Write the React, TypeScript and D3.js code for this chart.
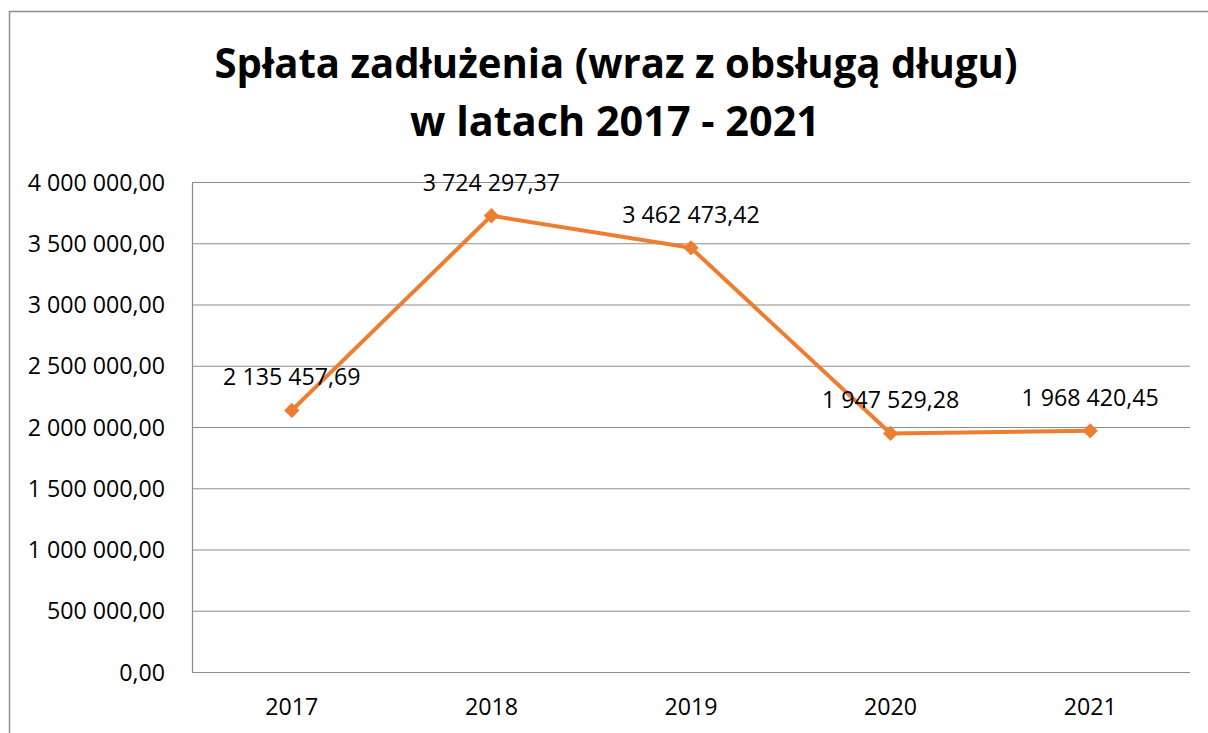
import React from "react";
import * as d3 from "d3";

const titleLines = ["Spłata zadłużenia (wraz z obsługą długu)", "w latach 2017 - 2021"];
const years = ["2017", "2018", "2019", "2020", "2021"];
const values = [2135457.69, 3724297.37, 3462473.42, 1947529.28, 1968420.45];
const yTicks = [0, 500000, 1000000, 1500000, 2000000, 2500000, 3000000, 3500000, 4000000];

const W = 1208;
const H = 733;
const plot = { left: 192, right: 1190, top: 182, bottom: 672 };
const FONT = "'Open Sans', 'Liberation Sans', sans-serif";
const FS = 23.2;

const fmt = (v: number) => {
  const [i, d] = v.toFixed(2).split(".");
  const grouped = i.replace(/\B(?=(\d{3})+(?!\d))/g, " ");
  return `${grouped},${d}`;
};

export default function App() {
  const x = d3.scaleBand<string>().domain(years).range([plot.left, plot.right]);
  const y = d3.scaleLinear().domain([0, 4000000]).range([plot.bottom, plot.top]);
  const cx = (k: string) => (x(k) ?? 0) + x.bandwidth() / 2;
  const line = d3
    .line<number>()
    .x((_, i) => cx(years[i]))
    .y((v) => y(v));
  const diamond = d3.symbol().type(d3.symbolDiamond2).size(150)() as string;

  return (
    <svg width={W} height={H} style={{ position: "absolute", left: 0, top: 0, display: "block" }}>
      <rect x={0} y={0} width={W} height={H} fill="#fff" />
      <rect x={9.5} y={11.5} width={1400} height={900} fill="none" stroke="#8e8e8e" strokeWidth={1.5} />
      <text
        x={616}
        y={78}
        textAnchor="middle"
        fontFamily={FONT}
        fontWeight="bold"
        fontSize={41}
        textLength={803}
        lengthAdjust="spacingAndGlyphs"
        fill="#000"
      >
        {titleLines[0]}
      </text>
      <text
        x={615}
        y={136}
        textAnchor="middle"
        fontFamily={FONT}
        fontWeight="bold"
        fontSize={41}
        textLength={410}
        lengthAdjust="spacingAndGlyphs"
        fill="#000"
      >
        {titleLines[1]}
      </text>
      {yTicks.map((t) => (
        <g key={t}>
          <line x1={plot.left} x2={plot.right} y1={y(t) + 0.5} y2={y(t) + 0.5} stroke="#8c8c8c" strokeWidth={1.2} />
          <text x={165} y={y(t) + 8.5} textAnchor="end" fontFamily={FONT} fontSize={FS} fill="#000">
            {fmt(t)}
          </text>
        </g>
      ))}
      <line x1={plot.left + 0.5} x2={plot.left + 0.5} y1={plot.top} y2={plot.bottom + 0.5} stroke="#8c8c8c" strokeWidth={1.2} />
      {years.map((k) => (
        <text key={k} x={cx(k)} y={715} textAnchor="middle" fontFamily={FONT} fontSize={FS} fill="#000">
          {k}
        </text>
      ))}
      <path d={line(values) ?? ""} fill="none" stroke="#ED7D31" strokeWidth={4} strokeLinejoin="round" />
      {values.map((v, i) => (
        <path key={i} d={diamond} transform={`translate(${cx(years[i])},${y(v)})`} fill="#ED7D31" />
      ))}
      {values.map((v, i) => (
        <text key={i} x={cx(years[i])} y={y(v) - 25} textAnchor="middle" fontFamily={FONT} fontSize={FS} fill="#000">
          {fmt(v)}
        </text>
      ))}
    </svg>
  );
}
